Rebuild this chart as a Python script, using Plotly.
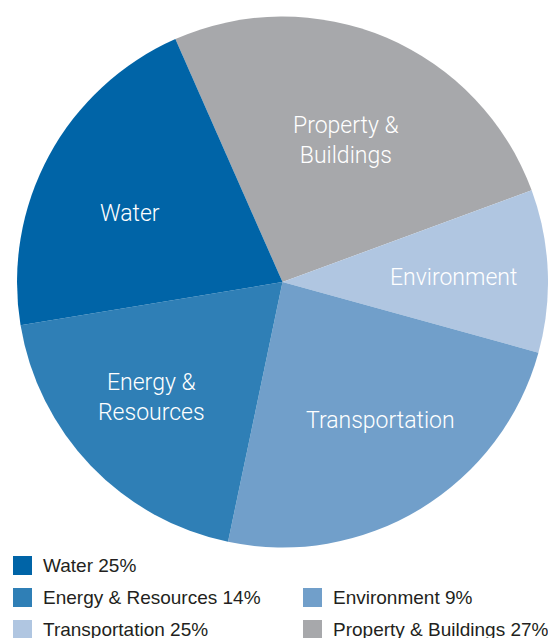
import plotly.graph_objects as go

# ---- data ----
categories = ["Property & Buildings", "Environment", "Transportation", "Energy & Resources", "Water"]
slice_text = ["Property &<br>Buildings", "Environment", "Transportation", "Energy &<br>Resources", "Water"]
# slice sizes as drawn (angular share of the circle, %)
slice_values = [26.0, 9.9, 24.0, 19.1, 21.0]
slice_colors = ["#a7a8ab", "#b0c6e1", "#719fca", "#2f7fb6", "#0064a7"]

# legend as printed (order: column 1 top->bottom, then column 2)
legend_labels = ["Water 25%", "Energy & Resources 14%", "Transportation 25%",
                 "", "Environment 9%", "Property & Buildings 27%"]
legend_colors = ["#0064a7", "#2f7fb6", "#b0c6e1", None, "#719fca", "#a7a8ab"]

W, H = 548, 638

# label anchor points inside each slice (pixels from top-left)
label_pos = [(346, 140), (453, 277), (380, 420), (151, 397), (130, 213)]

fig = go.Figure()
fig.add_trace(go.Pie(
    labels=categories,
    values=slice_values,
    textinfo="none",
    sort=False,
    direction="clockwise",
    rotation=-23.8,
    marker=dict(colors=slice_colors, line=dict(width=0)),
    hoverinfo="skip",
    showlegend=False,
    domain=dict(x=[17 / W, 1.0], y=[1 - 548 / H, 1 - 16 / H]),
))

shapes = []
annotations = []
for txt, (px, py) in zip(slice_text, label_pos):
    annotations.append(dict(xref="paper", yref="paper", x=px / W, y=1 - py / H,
                            xanchor="center", yanchor="middle", showarrow=False,
                            text=txt, align="center",
                            font=dict(family="Roboto", weight=300, size=23, color="white")))

# custom legend
col_sq_x = [13, 303]
row_top = [556, 588, 620]
sq = 19
for i, (lab, col) in enumerate(zip(legend_labels, legend_colors)):
    if not lab:
        continue
    c, r = divmod(i, 3)
    x0 = col_sq_x[c]
    y0 = row_top[r]
    shapes.append(dict(type="rect", xref="paper", yref="paper",
                       x0=x0 / W, x1=(x0 + sq) / W,
                       y0=1 - (y0 + sq) / H, y1=1 - y0 / H,
                       fillcolor=col, line=dict(width=0)))
    annotations.append(dict(xref="paper", yref="paper",
                            x=(x0 + sq + 9) / W, y=1 - (y0 + sq / 2) / H,
                            xanchor="left", yanchor="middle", showarrow=False,
                            text=lab,
                            font=dict(family="Liberation Sans", size=19, color="#231f20")))

fig.update_layout(
    width=W, height=H,
    margin=dict(l=0, r=0, t=0, b=0),
    paper_bgcolor="white",
    plot_bgcolor="white",
    shapes=shapes,
    annotations=annotations,
)

fig.write_html("out.html",
               config={"displayModeBar": False},
               post_script="document.body.style.margin='0';document.body.style.overflow='hidden';")
